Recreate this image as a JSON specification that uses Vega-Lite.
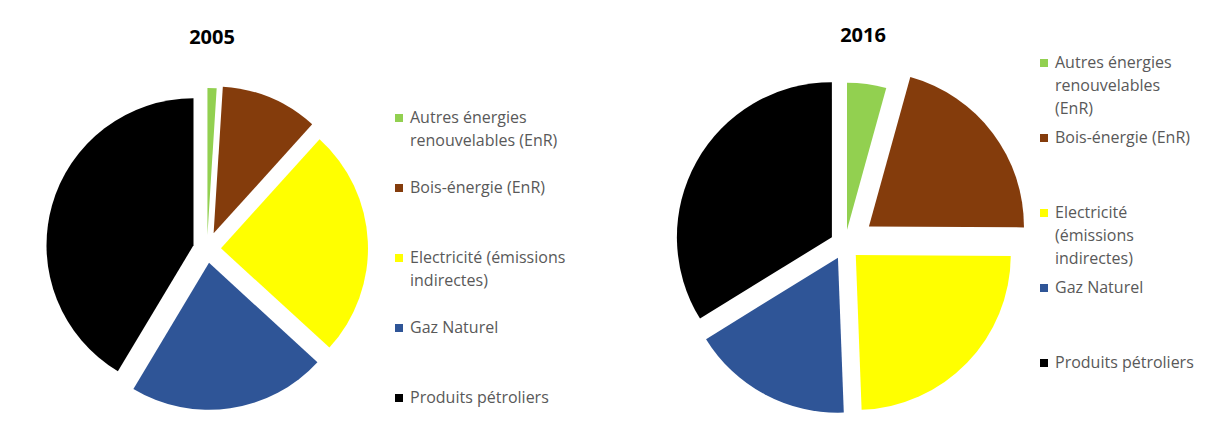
{
  "$schema": "https://vega.github.io/schema/vega-lite/v6.json",
  "padding": {"left": 21, "top": 26, "right": 5, "bottom": 0},
  "background": "white",
  "bounds": "flush",
  "spacing": 257,
  "data": {
    "values": [
      {"year": "2005", "category": "Autres énergies renouvelables (EnR)", "share": 1.0},
      {"year": "2005", "category": "Bois-énergie (EnR)", "share": 10.7},
      {"year": "2005", "category": "Electricité (émissions indirectes)", "share": 25.1},
      {"year": "2005", "category": "Gaz Naturel", "share": 21.8},
      {"year": "2005", "category": "Produits pétroliers", "share": 41.4},
      {"year": "2016", "category": "Autres énergies renouvelables (EnR)", "share": 4.3},
      {"year": "2016", "category": "Bois-énergie (EnR)", "share": 20.8},
      {"year": "2016", "category": "Electricité (émissions indirectes)", "share": 24.3},
      {"year": "2016", "category": "Gaz Naturel", "share": 16.8},
      {"year": "2016", "category": "Produits pétroliers", "share": 33.8}
    ]
  },
  "resolve": {"scale": {"color": "independent", "theta": "independent"}, "legend": {"color": "independent"}},
  "config": {
    "view": {"stroke": null},
    "font": "Open Sans",
    "style": {"guide-label": {"lineHeight": 23}}
  },
  "hconcat": [
    {
      "width": 372,
      "height": 424,
      "title": {"text": "2005", "fontSize": 20, "fontWeight": "bold", "color": "black", "baseline": "alphabetic", "offset": -27, "dx": 5, "anchor": "middle", "font": "Open Sans"},
      "transform": [{"filter": "datum.year == '2005'"}],
      "mark": {
        "type": "arc",
        "radius": 147,
        "xOffset": {"expr": "(datum.category == 'Bois-énergie (EnR)' ? 17 : 14)*sin((datum.share_start+datum.share_end)*PI)"},
        "yOffset": {"expr": "-(datum.category == 'Bois-énergie (EnR)' ? 17 : 14)*cos((datum.share_start+datum.share_end)*PI)"}
      },
      "encoding": {
        "theta": {"field": "share", "type": "quantitative", "stack": "normalize"},
        "color": {
          "field": "category",
          "type": "nominal",
          "scale": {
            "domain": ["Autres énergies renouvelables (EnR)", "Bois-énergie (EnR)", "Electricité (émissions indirectes)", "Gaz Naturel", "Produits pétroliers"],
            "range": ["#92D050", "#843C0C", "#FFFF00", "#2F5597", "#000000"]
          },
          "legend": {
            "orient": "none",
            "legendX": 370,
            "legendY": 73,
            "title": null,
            "padding": 0,
            "symbolType": "square",
            "symbolSize": 64,
            "symbolStrokeWidth": 0,
            "labelFontSize": 16,
            "labelColor": "#595959",
            "labelOffset": 3,
            "labelLimit": 400,
            "labelBaseline": "middle",
            "gridAlign": "all",
            "rowPadding": 31,
            "labelExpr": "datum.label == 'Autres énergies renouvelables (EnR)' ? ['Autres énergies', 'renouvelables (EnR)'] : datum.label == 'Electricité (émissions indirectes)' ? ['Electricité (émissions', 'indirectes)'] : datum.label"
          }
        }
      }
    },
    {
      "width": 390,
      "height": 415,
      "title": {"text": "2016", "fontSize": 20, "fontWeight": "bold", "color": "black", "baseline": "alphabetic", "offset": -25, "dx": 18, "anchor": "middle", "font": "Open Sans"},
      "transform": [{"filter": "datum.year == '2016'"}],
      "mark": {
        "type": "arc",
        "radius": {"expr": "datum.category == 'Autres énergies renouvelables (EnR)' ? 147 : 155"},
        "xOffset": {"expr": "(datum.category == 'Bois-énergie (EnR)' ? 30 : 15)*sin((datum.share_start+datum.share_end)*PI)"},
        "yOffset": {"expr": "-(datum.category == 'Bois-énergie (EnR)' ? 30 : 15)*cos((datum.share_start+datum.share_end)*PI)"}
      },
      "encoding": {
        "theta": {"field": "share", "type": "quantitative", "stack": "normalize"},
        "color": {
          "field": "category",
          "type": "nominal",
          "scale": {
            "domain": ["Autres énergies renouvelables (EnR)", "Bois-énergie (EnR)", "Electricité (émissions indirectes)", "Gaz Naturel", "Produits pétroliers"],
            "range": ["#92D050", "#843C0C", "#FFFF00", "#2F5597", "#000000"]
          },
          "legend": {
            "orient": "none",
            "legendX": 386,
            "legendY": 18,
            "title": null,
            "padding": 0,
            "symbolType": "square",
            "symbolSize": 64,
            "symbolStrokeWidth": 0,
            "labelFontSize": 16,
            "labelColor": "#595959",
            "labelOffset": 3,
            "labelLimit": 400,
            "labelBaseline": "middle",
            "gridAlign": "all",
            "rowPadding": 13,
            "labelExpr": "datum.label == 'Autres énergies renouvelables (EnR)' ? ['Autres énergies', 'renouvelables', '(EnR)'] : datum.label == 'Electricité (émissions indirectes)' ? ['Electricité', '(émissions', 'indirectes)'] : datum.label"
          }
        }
      }
    }
  ]
}
